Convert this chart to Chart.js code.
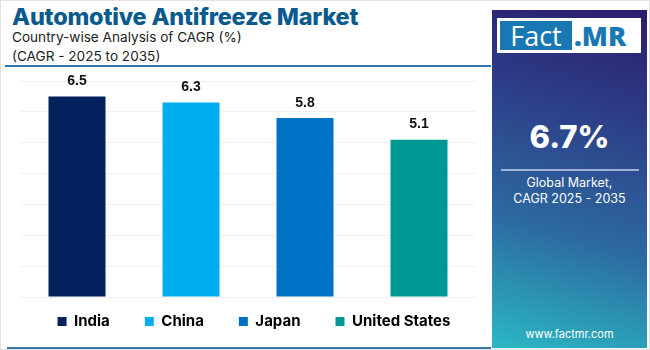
<!DOCTYPE html>
<html>
<head>
<meta charset="utf-8">
<script src="https://cdn.jsdelivr.net/npm/chart.js@4.4.1/dist/chart.umd.min.js"></script>
<style>
  html, body { margin: 0; padding: 0; background: #fff; }
  body { width: 650px; height: 350px; position: relative; overflow: hidden; font-family: Inter, "Noto Sans", sans-serif; }
  .moldura { position: absolute; left: 0; top: 0; width: 648px; height: 348px; border: 1px solid #e2e2e2; }
  .titulo { position: absolute; left: 12px; top: 2px; font-size: 23.5px; font-weight: 800; color: #0b5a8e; letter-spacing: -0.2px; white-space: nowrap; }
  .sub { position: absolute; left: 12px; font-size: 13.6px; color: #222; white-space: nowrap; }
  .linha-topo { position: absolute; left: 5px; top: 65px; width: 486px; height: 2px; background: #2e74b3; }
  .linha-base { position: absolute; left: 7px; top: 347px; width: 484px; height: 2px; background: #3a78ad; }
  .grafico { position: absolute; left: 0; top: 67px; width: 490px; height: 294px; }
  .painel { position: absolute; left: 492px; top: 10px; width: 155px; height: 338px;
    background: linear-gradient(196deg, #2b1c6c 0%, #2d3d88 30%, #2c6aa0 65%, #2bb8c4 100%); color: #fff; text-align: center; }
  .logo { position: absolute; left: 5px; top: 8px; width: 144px; height: 35px; background: #fff; }
  .logo .fact { position: absolute; left: 3px; top: 3px; width: 72px; height: 29px; background: #1778b3; color: #fff; font-size: 27px; line-height: 29px; font-family: "Open Sans", sans-serif; }
  .logo .mr { position: absolute; left: 77px; top: 1px; font-size: 27px; line-height: 33px; font-weight: 800; color: #1778b3; font-family: "Open Sans", sans-serif; }
  .cagr { position: absolute; left: 0; width: 155px; top: 108px; font-size: 31px; font-weight: 800; }
  .sep { position: absolute; left: 9px; top: 159px; width: 138px; height: 2px; background: rgba(200,210,235,0.75); }
  .glob { position: absolute; left: 0; width: 155px; top: 165px; font-size: 12.5px; line-height: 16px; }
  .site { position: absolute; left: 0; width: 155px; top: 317px; font-size: 11px; }
</style>
</head>
<body>
<div class="moldura"></div>
<div class="titulo">Automotive Antifreeze Market</div>
<div class="sub" style="top:29px">Country-wise Analysis of CAGR (%)</div>
<div class="sub" style="top:48px">(CAGR - 2025 to 2035)</div>
<div class="linha-topo"></div>
<div class="grafico"><canvas id="c"></canvas></div>
<div class="linha-base"></div>
<div class="painel">
  <div class="logo"><div class="fact">Fact</div><div class="mr">.MR</div></div>
  <div class="cagr">6.7%</div>
  <div class="sep"></div>
  <div class="glob">Global Market,<br>CAGR 2025 - 2035</div>
  <div class="site">www.factmr.com</div>
</div>
<script>
// dados
const PAISES = ['India', 'China', 'Japan', 'United States'];
const CAGR = [6.5, 6.3, 5.8, 5.1];
const CORES = ['#03215c', '#00aeef', '#0072c6', '#009794'];

const LEG_PAD = 35;
const LEG_FONTE = 15;

// rotulos de valor acima das barras
const rotulos = {
  id: 'rotulos',
  afterDatasetsDraw(chart) {
    const ctx = chart.ctx;
    const meta = chart.getDatasetMeta(0);
    ctx.save();
    ctx.font = 'bold 14px "Liberation Sans", Arial, sans-serif';
    ctx.fillStyle = '#111';
    ctx.textAlign = 'center';
    ctx.textBaseline = 'middle';
    meta.data.forEach((bar, i) => {
      ctx.fillText(CAGR[i].toFixed(1), bar.x, bar.y - 15);
    });
    ctx.restore();
  }
};

// sobe a legenda: o padding largo serve so para o espaco horizontal
const subirLegenda = {
  id: 'subirLegenda',
  afterLayout(chart) {
    const leg = chart.legend;
    if (!leg) return;
    const alvo = chart.chartArea.bottom + 26;           // centro do texto
    const atual = leg.top + LEG_PAD + LEG_FONTE * 1.2 / 2;
    const d = atual - alvo;
    leg.top -= d; leg.bottom -= d;
  }
};

new Chart(document.getElementById('c'), {
  type: 'bar',
  data: {
    labels: PAISES,
    datasets: [{ data: CAGR, backgroundColor: CORES, barPercentage: 0.5, categoryPercentage: 1 }]
  },
  options: {
    responsive: true, maintainAspectRatio: false, animation: false,
    layout: { padding: { left: 18, right: 0, top: 14, bottom: 4 } },
    plugins: {
      tooltip: { enabled: false },
      legend: {
        position: 'bottom',
        labels: {
          boxWidth: 9, boxHeight: 9, padding: LEG_PAD, color: '#111',
          font: { family: 'Inter', weight: 'bold', size: LEG_FONTE },
          generateLabels: () => PAISES.map((p, i) => ({
            text: p, fillStyle: CORES[i], strokeStyle: CORES[i], lineWidth: 0, index: i
          }))
        }
      }
    },
    scales: {
      x: { display: false },
      y: {
        min: 0, max: 7,
        ticks: { display: false, stepSize: 1 },
        grid: { color: '#f0f0f0', drawTicks: false },
        border: { display: false },
        afterFit: s => { s.width = 2; }
      },
      y2: {
        position: 'right',
        ticks: { display: false },
        grid: { display: false },
        border: { display: false },
        afterFit: s => { s.width = 14; }
      }
    }
  },
  plugins: [rotulos, subirLegenda]
});
</script>
</body>
</html>
